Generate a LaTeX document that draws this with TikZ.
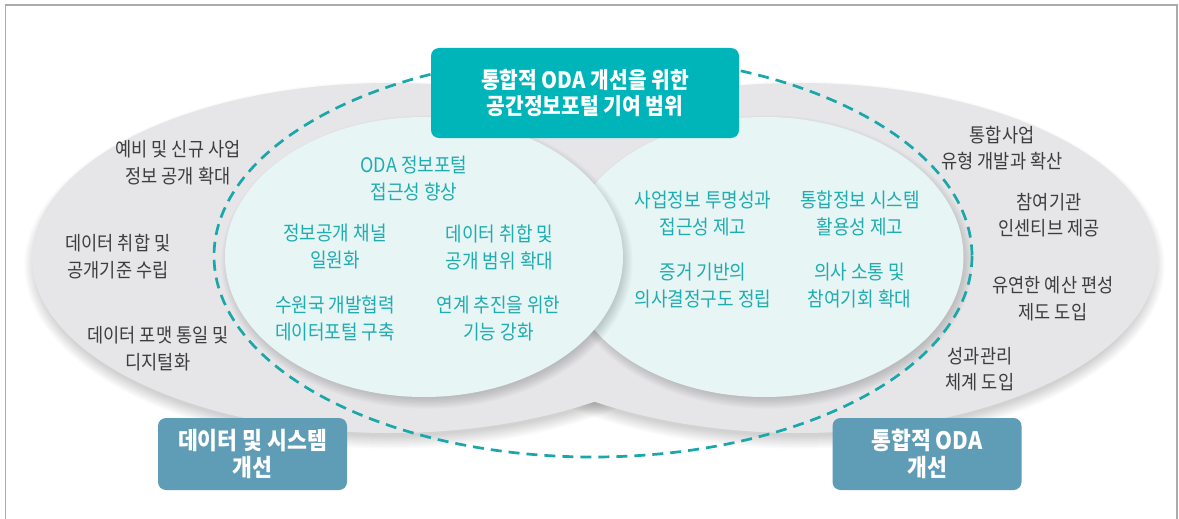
\documentclass[tikz,border=0pt]{standalone}
\usepackage{fontspec}
\newfontfamily\kr[FakeStretch=0.9]{Noto Sans CJK KR}
\definecolor{teal1}{HTML}{00B5B9}
\definecolor{tealtxt}{HTML}{1FADB0}
\definecolor{dashc}{HTML}{1AA7AA}
\definecolor{steel}{HTML}{5F9CB5}
\definecolor{graytxt}{HTML}{3D3D3D}
\definecolor{grayfill}{HTML}{E6E6E8}
\definecolor{innerfill}{HTML}{E7F5F5}
\definecolor{framec}{HTML}{ABABAB}
\tikzset{
  graytext/.style={text=graytxt, align=center, inner sep=0pt, font=\kr\fontsize{19.5}{26.5}\selectfont},
  tealtext/.style={text=tealtxt, align=center, inner sep=0pt, font=\kr\fontsize{20}{27}\selectfont},
  topbox/.style={fill=teal1, rounded corners=8pt, minimum width=308pt, minimum height=90pt, inner sep=0pt, text=white, align=center, font=\kr\bfseries\fontsize{22.6}{26}\selectfont},
  catbox/.style={fill=steel, rounded corners=8pt, minimum width=189pt, minimum height=72pt, inner sep=0pt, text=white, align=center, font=\kr\bfseries\fontsize{24}{27}\selectfont},
  dashring/.style={draw=dashc, line width=2.7pt, dash pattern=on 11pt off 7pt},
  softshade/.style={fill=black, opacity=0.02},
}
\begin{document}
\begin{tikzpicture}[x=1pt,y=-1pt]
\useasboundingbox (0,0) rectangle (1179,519);
\fill[white] (0,0) rectangle (1179,519);
% frame
\draw[framec, line width=1.2pt] (5.5,519) -- (5.5,5) -- (1177,5) -- (1177,519);
% gray ellipse shadows
\foreach \k in {1,...,9}{
  \fill[softshade] (390,265) ellipse [x radius={352+\k*1.5}, y radius={170+\k*1.5}];
  \fill[softshade] (799,265) ellipse [x radius={352+\k*1.5}, y radius={170+\k*1.5}];
}
% gray ellipses
\fill[grayfill] (390,258) ellipse [x radius=358, y radius=175];
\fill[grayfill] (799,258) ellipse [x radius=358, y radius=175];
% right inner ellipse
\foreach \k in {1,...,9}{
  \fill[softshade] (767,262) ellipse [x radius={194+\k*1.3}, y radius={135+\k*1.3}];
}
\fill[innerfill] (764.5,257) ellipse [x radius=199, y radius=140];
% left inner ellipse
\foreach \k in {1,...,9}{
  \fill[softshade] (427,262) ellipse [x radius={194+\k*1.3}, y radius={135+\k*1.3}];
}
\fill[innerfill] (424,257) ellipse [x radius=199, y radius=140];
% dashed scope ring
\draw[dashring] (593,256) ellipse [x radius=379, y radius=201];
% boxes
\node[topbox] (top) at (585,93) {통합적 ODA 개선을 위한\\공간정보포털 기여 범위};
\node[catbox] (catL) at (252.5,454) {데이터 및 시스템\\개선};
\node[catbox] (catR) at (927,454) {통합적 ODA\\개선};
% left gray items
\node[graytext] (a1) at (178,162.5) {예비 및 신규 사업\\정보 공개 확대};
\node[graytext] (a2) at (118,256.5) {데이터 취합 및\\공개기준 수립};
\node[graytext] (a3) at (158,348.5) {데이터 포맷 통일 및\\디지털화};
% right gray items
\node[graytext] (b1) at (1002,148) {통합사업\\유형 개발과 확산};
\node[graytext] (b2) at (1049,215) {참여기관\\인센티브 제공};
\node[graytext] (b3) at (1053,298.5) {유연한 예산 편성\\제도 도입};
\node[graytext] (b4) at (980,369) {성과관리\\체계 도입};
% left inner items
\node[tealtext] (c1) at (414,178.5) {ODA 정보포털\\접근성 향상};
\node[tealtext] (c2) at (335,247) {정보공개 채널\\일원화};
\node[tealtext] (c3) at (499.5,247) {데이터 취합 및\\공개 범위 확대};
\node[tealtext] (c4) at (335,318.5) {수원국 개발협력\\데이터포털 구축};
\node[tealtext] (c5) at (498.5,318.5) {연계 추진을 위한\\기능 강화};
% right inner items
\node[tealtext] (d1) at (703,213.5) {사업정보 투명성과\\접근성 제고};
\node[tealtext] (d2) at (860,213.5) {통합정보 시스템\\활용성 제고};
\node[tealtext] (d3) at (703,286) {증거 기반의\\의사결정구도 정립};
\node[tealtext] (d4) at (859.5,286) {의사 소통 및\\참여기회 확대};
\end{tikzpicture}
\end{document}
